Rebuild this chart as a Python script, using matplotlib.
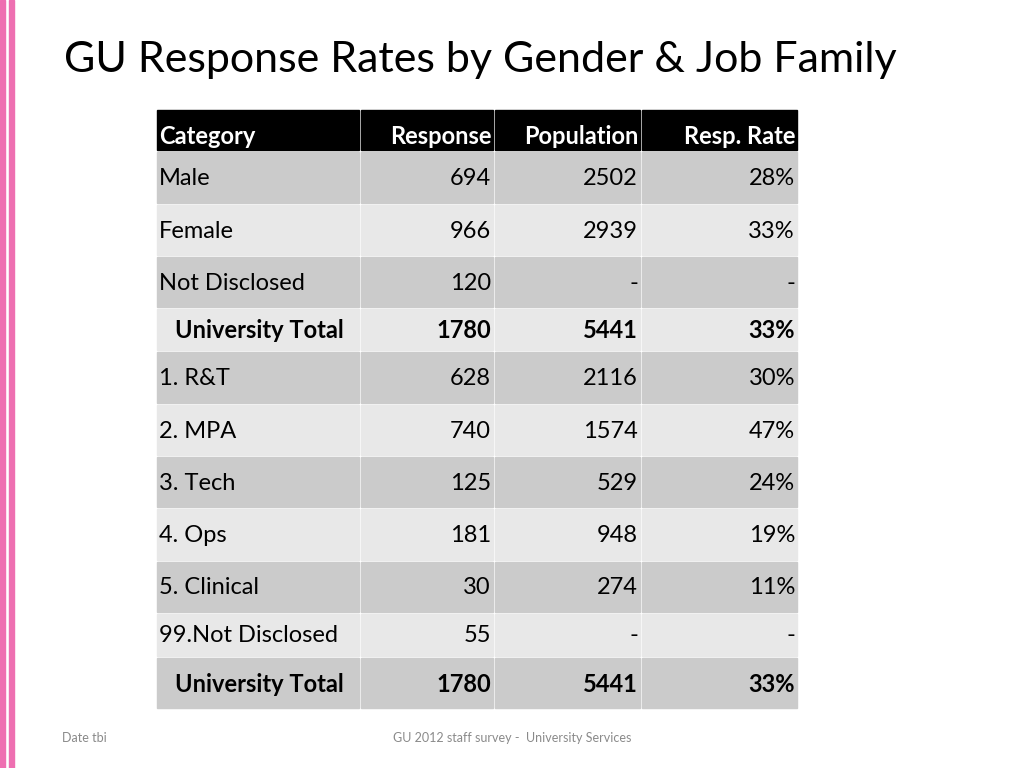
import matplotlib
matplotlib.use("Agg")
import matplotlib.pyplot as plt
from matplotlib.patches import Rectangle

categories = ["Male", "Female", "Not Disclosed", "University Total", "1. R&T", "2. MPA",
              "3. Tech", "4. Ops", "5. Clinical", "99.Not Disclosed", "University Total"]
response = ["694", "966", "120", "1780", "628", "740", "125", "181", "30", "55", "1780"]
population = ["2502", "2939", "-", "5441", "2116", "1574", "529", "948", "274", "-", "5441"]
resp_rate = ["28%", "33%", "-", "33%", "30%", "47%", "24%", "19%", "11%", "-", "33%"]
headers = ["Category", "Response", "Population", "Resp. Rate"]
bold_rows = [3, 10]

plt.rcParams["font.family"] = "Lato"
fig = plt.figure(figsize=(10.24, 7.68), dpi=100)
ax = fig.add_axes([0, 0, 1, 1])
ax.set_xlim(0, 1024); ax.set_ylim(768, 0); ax.axis("off")

ax.add_patch(Rectangle((0, 0), 5, 768, color="#ee6fb1"))
ax.add_patch(Rectangle((9, 0), 5, 768, color="#ee6fb1"))

ax.text(64, 60, "GU Response Rates by Gender & Job Family", fontsize=31, va="center", ha="left")

cols = [(157, 359), (361, 493), (495, 640), (642, 797)]
row_tops = [152, 205, 257, 309, 352, 405, 457, 509, 562, 614, 658]
row_bots = [203, 255, 307, 350, 403, 455, 507, 560, 612, 656, 708]

for j, (x0, x1) in enumerate(cols):
    ax.add_patch(Rectangle((x0, 110), x1 - x0, 40, color="black"))
    if j == 0:
        ax.text(x0 + 2, 136, headers[j], color="white", fontsize=17, fontweight="bold", va="center", ha="left")
    else:
        ax.text(x1 - 1, 136, headers[j], color="white", fontsize=17, fontweight="bold", va="center", ha="right")

for i, cat in enumerate(categories):
    t, b = row_tops[i], row_bots[i]
    color = "#cbcbcb" if i % 2 == 0 else "#e8e8e8"
    bold = i in bold_rows
    fw = "bold" if bold else "normal"
    cy = (t + b) / 2 + 1
    for j, (x0, x1) in enumerate(cols):
        ax.add_patch(Rectangle((x0, t), x1 - x0, b - t, color=color))
    ax.text(157 + (18 if bold else 2), cy, cat, fontsize=17, fontweight=fw, va="center", ha="left")
    for j, vals in enumerate([response, population, resp_rate], start=1):
        ax.text(cols[j][1] - 2, cy, vals[i], fontsize=17, fontweight=fw, va="center", ha="right")

ax.text(62, 738, "Date tbi", fontsize=9, color="#8a8a8a", va="center")
ax.text(512, 738, "GU 2012 staff survey -  University Services", fontsize=9, color="#8a8a8a", va="center", ha="center")

fig.savefig("out.png", dpi=100)
